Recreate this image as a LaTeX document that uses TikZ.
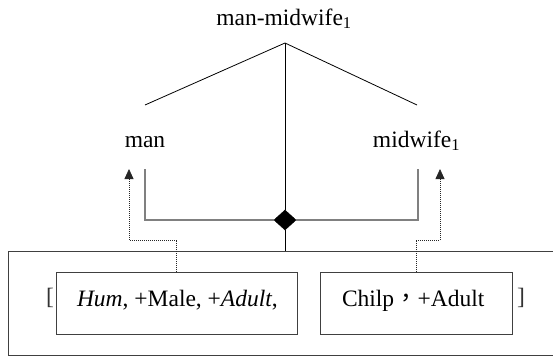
\documentclass[tikz,border=0pt]{standalone}
\usepackage{fontspec}
\setmainfont{Liberation Serif}
\newfontfamily\cjkfont{Noto Sans CJK TC}
\usetikzlibrary{arrows.meta,shapes.geometric}
\begin{document}
\begin{tikzpicture}[x=1pt,y=-1pt,
  every node/.style={font=\fontsize{23.5}{28}\selectfont, inner sep=0pt, outer sep=0pt},
  txt/.style={anchor=base},
  tree/.style={draw=black, line width=0.8pt},
  frame/.style={draw=black!75, line width=0.8pt},
  featbox/.style={frame, minimum height=62pt},
  joinline/.style={draw=black!50, line width=1.3pt},
  pointer/.style={draw=black!85, line width=0.8pt, dash pattern=on 1pt off 1pt,
                  -{Triangle[width=9pt,length=10pt]}},
]
\useasboundingbox (0,0) rectangle (553,356);

% compound and its two parts
\node[txt] (compound) at (284,25) {man-midwife\textsubscript{1}};
\node[txt] (man) at (145,147) {man};
\node[txt] (midwife) at (416.5,147) {midwife\textsubscript{1}};

\coordinate (apex) at (285,43);
\coordinate (lend) at (145,105);
\coordinate (rend) at (417,105);
\draw[tree] (lend) -- (apex) -- (rend);

% head-joining bracket with diamond
\node[draw=black, fill=black, diamond, minimum width=22pt, minimum height=20pt] (dia) at (285,220) {};
\coordinate (ljoin) at (145,169);
\coordinate (rjoin) at (418,169);
\draw[joinline] (ljoin) |- (dia.west);
\draw[joinline] (dia.east) -| (rjoin);

\coordinate (ftop) at (285,251);
\draw[tree] (apex) -- (dia.north);
\draw[tree] (dia.south) -- (ftop);

% outer frame, open on the right
\draw[frame] (553,251) -- (8,251) -- (8,355) -- (553,355);

% feature boxes
\node[featbox, minimum width=241pt] (box1) at (176.5,303) {};
\node[featbox, minimum width=192pt] (box2) at (416,303) {};
\node[anchor=base west] (feat1) at (77,306) {\textit{Hum}, +Male, +\textit{Adult},};
\node[anchor=base west] (feat2) at (342,306.5) {Chilp{\cjkfont ，}+Adult};
\node[txt, text=black!80] (lbr) at (50,304) {[};
\node[txt, text=black!80] (rbr) at (521,304) {]};

% dotted pointers up to the parts
\coordinate (manbend) at (129,240);
\coordinate (mantip) at (129,169);
\coordinate (midbend) at (440,240);
\coordinate (midtip) at (440,169);
\draw[pointer] (box1.north) |- (manbend) -- (mantip);
\draw[pointer] (box2.north) |- (midbend) -- (midtip);
\end{tikzpicture}
\end{document}
